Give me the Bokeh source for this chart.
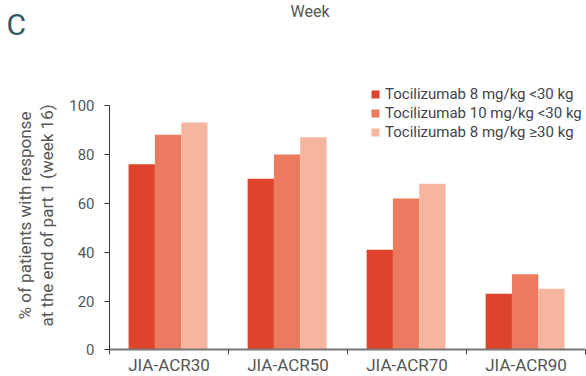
import math
from bokeh.plotting import figure
from bokeh.models import FixedTicker, Range1d, Label, Legend
from bokeh.embed import file_html
from bokeh.resources import INLINE

categories = ["JIA-ACR30", "JIA-ACR50", "JIA-ACR70", "JIA-ACR90"]
series_names = ["Tocilizumab 8 mg/kg <30 kg", "Tocilizumab 10 mg/kg <30 kg", "Tocilizumab 8 mg/kg \u226530 kg"]
tcz8_lt30 = [76, 70, 41, 23]
tcz10_lt30 = [88, 80, 62, 31]
tcz8_ge30 = [93, 87, 68, 25]
colors = ["#de432b", "#ec7a5f", "#f5b59e"]
y_ticks = [0, 20, 40, 60, 80, 100]

FONT = "Roboto"
GRAY = "#555555"

# frame covers the whole canvas; both axes are pinned at 0 (fixed_location)
p = figure(width=586, height=376, output_backend="svg", toolbar_location=None,
           x_range=Range1d(-0.916, 4.008), y_range=Range1d(-10.84, 142.94),
           min_border_left=0, min_border_right=0, min_border_top=0, min_border_bottom=0)
p.outline_line_color = None
p.grid.grid_line_color = None
p.background_fill_color = None
p.border_fill_color = "white"
p.title.visible = False

centers = [i + 0.5 for i in range(len(categories))]
bw = 0.221
offsets = [-bw, 0, bw]
series = [tcz8_lt30, tcz10_lt30, tcz8_ge30]
renderers = []
for vals, off, col, name in zip(series, offsets, colors, series_names):
    xs = [c + off - 0.008 for c in centers]
    r = p.vbar(x=xs, top=vals, width=bw, bottom=0, fill_color=col, line_color=None)
    renderers.append((name, [r]))

legend = Legend(items=renderers, location=(370, 235), border_line_color=None,
                background_fill_alpha=0, padding=0, margin=0, spacing=1,
                label_height=18, glyph_height=10, glyph_width=10, label_standoff=5,
                label_text_font=FONT, label_text_font_size="15px", label_text_color="#444444")
p.add_layout(legend, "center")

# x axis
xa = p.xaxis[0]
xa.fixed_location = 0
xa.bounds = (0, len(categories))
xa.ticker = FixedTicker(ticks=centers, minor_ticks=list(range(len(categories) + 1)))
xa.major_label_overrides = {c: lab for c, lab in zip(centers, categories)}
xa.major_tick_out = 0
xa.major_tick_in = 0
xa.minor_tick_out = 5
xa.minor_tick_in = 0
xa.minor_tick_line_color = "#444444"
xa.axis_line_color = "#777777"
xa.axis_line_width = 2
xa.major_label_text_font = FONT
xa.major_label_text_font_size = "17px"
xa.major_label_text_color = GRAY
xa.major_label_standoff = 0

ya = p.yaxis[0]
ya.fixed_location = 0
ya.bounds = (0, 100)
ya.ticker = FixedTicker(ticks=y_ticks)
ya.minor_tick_line_color = None
ya.major_tick_out = 5
ya.major_tick_in = 0
ya.axis_line_color = "#333333"
ya.major_tick_line_color = "#333333"
ya.major_label_text_font = FONT
ya.major_label_text_font_size = "15px"
ya.major_label_text_color = GRAY
ya.major_label_standoff = 10

p.add_layout(Label(x=35.5, y=161, x_units="screen", y_units="screen",
                   text="% of patients with response\nat the end of part 1 (week 16)",
                   angle=math.pi / 2, text_align="center", text_baseline="middle",
                   text_font=FONT, text_font_size="17px", text_color=GRAY,
                   text_line_height=1.1))
p.add_layout(Label(x=6, y=352, x_units="screen", y_units="screen", text="C",
                   text_font=FONT, text_font_size="30px", text_color="#2f5a63",
                   text_baseline="alphabetic"))
p.add_layout(Label(x=290, y=365, x_units="screen", y_units="screen", text="Week",
                   text_font=FONT, text_font_size="16px", text_color=GRAY,
                   text_baseline="alphabetic"))

open("out.html", "w").write(file_html(p, INLINE))
